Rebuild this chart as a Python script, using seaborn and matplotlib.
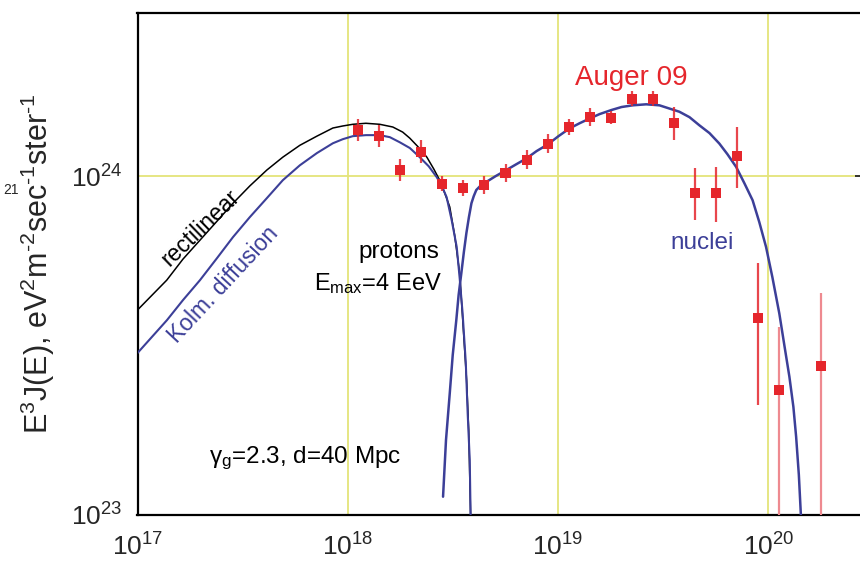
import numpy as np
import matplotlib
matplotlib.use('Agg')
import matplotlib.pyplot as plt
import seaborn as sns

# Auger 2009 spectrum, log10(E/eV) and log10(E^3 J)
auger_lgE = [18.05, 18.15, 18.25, 18.35, 18.45, 18.55, 18.65, 18.75, 18.85, 18.95, 19.05,
             19.15, 19.25, 19.35, 19.45, 19.55, 19.65, 19.75, 19.85, 19.95, 20.05, 20.25]
auger_lgF = [24.136, 24.119, 24.018, 24.072, 23.978, 23.965, 23.973, 24.010, 24.049, 24.096, 24.145,
             24.175, 24.173, 24.229, 24.229, 24.157, 23.951, 23.951, 24.060, 23.582, 23.369, 23.440]
auger_err_up = [0.032, 0.032, 0.032, 0.034, 0.022, 0.025, 0.027, 0.027, 0.027, 0.027, 0.025,
                0.027, 0.020, 0.023, 0.023, 0.046, 0.073, 0.076, 0.085, 0.161, 0.186, 0.214]
auger_err_lo = [0.032, 0.032, 0.032, 0.034, 0.022, 0.025, 0.027, 0.027, 0.027, 0.027, 0.025,
                0.027, 0.020, 0.023, 0.023, 0.051, 0.081, 0.086, 0.095, 0.258, 0.600, 0.443]

# protons, rectilinear propagation
rect_lgE = [17.0, 17.139, 17.216, 17.297, 17.378, 17.454, 17.534, 17.615, 17.691, 17.772,
            17.853, 17.929, 17.976, 18.024, 18.086, 18.152, 18.214, 18.261, 18.295, 18.332,
            18.376, 18.409, 18.437, 18.461, 18.485, 18.508, 18.532, 18.546, 18.565, 18.575,
            18.584, 18.590]
rect_lgF = [23.605, 23.693, 23.755, 23.811, 23.867, 23.920, 23.971, 24.018, 24.056, 24.091,
            24.118, 24.142, 24.148, 24.153, 24.156, 24.153, 24.145, 24.130, 24.112, 24.088,
            24.056, 24.021, 23.988, 23.950, 23.909, 23.826, 23.714, 23.581, 23.398, 23.251,
            23.000, 22.900]

# protons, Kolmogorov diffusion
kolm_lgE = [17.0, 17.140, 17.216, 17.297, 17.378, 17.454, 17.534, 17.615, 17.691, 17.772,
            17.853, 17.929, 17.976, 18.024, 18.086, 18.152, 18.200, 18.247, 18.295, 18.342,
            18.385, 18.423, 18.447, 18.470, 18.494, 18.518, 18.532, 18.546, 18.561, 18.570,
            18.580, 18.584, 18.590]
kolm_lgF = [23.478, 23.575, 23.634, 23.693, 23.758, 23.820, 23.879, 23.935, 23.988, 24.032,
            24.068, 24.097, 24.109, 24.118, 24.121, 24.121, 24.115, 24.100, 24.083, 24.056,
            24.029, 23.997, 23.971, 23.938, 23.870, 23.791, 23.699, 23.596, 23.451, 23.301,
            23.162, 23.000, 22.900]

# nuclei
nuc_lgE = [18.453, 18.467, 18.485, 18.499, 18.516, 18.527, 18.540, 18.552, 18.564, 18.576,
           18.588, 18.599, 18.611, 18.633, 18.659, 18.703, 18.754, 18.801, 18.849, 18.898,
           18.952, 19.002, 19.055, 19.102, 19.150, 19.197, 19.253, 19.302, 19.355, 19.419,
           19.482, 19.577, 19.625, 19.672, 19.720, 19.767, 19.805, 19.847, 19.886, 19.925,
           19.957, 19.989, 20.019, 20.052, 20.076, 20.100, 20.119, 20.132, 20.145, 20.155,
           20.160]
nuc_lgF = [23.054, 23.221, 23.360, 23.472, 23.575, 23.649, 23.714, 23.776, 23.832, 23.879,
           23.920, 23.941, 23.959, 23.973, 23.983, 24.000, 24.018, 24.035, 24.052, 24.074,
           24.094, 24.118, 24.141, 24.156, 24.170, 24.183, 24.195, 24.204, 24.209, 24.212,
           24.209, 24.190, 24.174, 24.150, 24.127, 24.096, 24.065, 24.027, 23.979, 23.929,
           23.864, 23.791, 23.702, 23.595, 23.501, 23.408, 23.319, 23.231, 23.118, 22.995,
           22.900]

red = '#e5262c'
blue = '#3c3f98'
grid_col = '#e4e47a'

sns.set_style("white")
plt.rcParams['font.family'] = ['Liberation Sans', 'DejaVu Sans']
plt.rcParams['mathtext.fontset'] = 'custom'
plt.rcParams['mathtext.rm'] = 'Liberation Sans'
plt.rcParams['mathtext.it'] = 'Liberation Sans:italic'

fig = plt.figure(figsize=(8.6, 5.63), dpi=100)
ax = fig.add_axes([137.5 / 860, 1 - 515 / 563, (868.7 - 137.5) / 860, (515 - 13) / 563])
ax.set_xscale('log')
ax.set_yscale('log')
ax.set_xlim(1e17, 3e20)
ax.set_ylim(1e23, 3.03e24)

# yellow grid at decades
for gx in [1e18, 1e19, 1e20]:
    ax.axvline(gx, color=grid_col, lw=1.3, zorder=0)
ax.axhline(1e24, color=grid_col, lw=1.3, zorder=0)

# model curves
sns.lineplot(x=10 ** np.array(rect_lgE), y=10 ** np.array(rect_lgF), ax=ax, color='black',
             lw=1.1, sort=False, estimator=None, zorder=2)
sns.lineplot(x=10 ** np.array(kolm_lgE), y=10 ** np.array(kolm_lgF), ax=ax, color=blue,
             lw=1.5, sort=False, estimator=None, zorder=3)
sns.lineplot(x=10 ** np.array(nuc_lgE), y=10 ** np.array(nuc_lgF), ax=ax, color=blue,
             lw=1.8, sort=False, estimator=None, zorder=3)

# data with error bars
E = 10 ** np.array(auger_lgE)
F = 10 ** np.array(auger_lgF)
up = 10 ** (np.array(auger_lgF) + np.array(auger_err_up)) - F
lo = F - 10 ** (np.array(auger_lgF) - np.array(auger_err_lo))
n_dark = 20
ax.errorbar(E[:n_dark], F[:n_dark], yerr=[lo[:n_dark], up[:n_dark]], fmt='none',
            ecolor=red, elinewidth=1.6, alpha=0.85, zorder=4)
ax.errorbar(E[n_dark:], F[n_dark:], yerr=[lo[n_dark:], up[n_dark:]], fmt='none',
            ecolor='#ee8a90', elinewidth=1.6, zorder=4)
sns.scatterplot(x=E, y=F, ax=ax, marker='s', s=52, color=red, edgecolor='none',
                linewidth=0, zorder=5)

# axes styling
for side in ['left', 'bottom', 'top', 'right']:
    ax.spines[side].set_linewidth(1.6)
    ax.spines[side].set_color('black')
ax.tick_params(which='major', direction='in', length=10, width=1.3, labelsize=19,
               right=True, top=False)
ax.tick_params(which='minor', direction='in', length=5, width=1.1, right=True, top=False)
ax.tick_params(axis='x', which='major', pad=13)
ax.tick_params(axis='y', which='major', pad=11)
ax.set_xlabel('')
ax.set_ylabel(r'E$^3$J(E), eV$^2$m$^{\text{-}2}$sec$^{\text{-}1}$ster$^{\text{-}1}$',
              fontsize=22, labelpad=10)

# annotations
ax.text(10 ** 19.349, 10 ** 24.289, 'Auger 09', color=red, fontsize=20, ha='center', va='center')
ax.text(10 ** 17.3, 10 ** 23.847, 'rectilinear', color='black', fontsize=16.5, rotation=44,
        ha='center', va='center')
ax.text(10 ** 17.41, 10 ** 23.68, 'Kolm. diffusion', color=blue, fontsize=16.5, rotation=47,
        ha='center', va='center')
ax.text(10 ** 18.242, 10 ** 23.776, 'protons', color='black', fontsize=17.5, ha='center', va='center')
ax.text(10 ** 18.142, 10 ** 23.684, r'E$_{\rm max}$=4 EeV', color='black', fontsize=17,
        ha='center', va='center')
ax.text(10 ** 17.796, 10 ** 23.168, r'γ$_{\rm g}$=2.3, d=40 Mpc', color='black', fontsize=17.5,
        ha='center', va='center')
ax.text(10 ** 19.686, 10 ** 23.802, 'nuclei', color=blue, fontsize=17.5, ha='center', va='center')

fig.text(11 / 860, 1 - 190 / 563, '21', fontsize=10, ha='center', va='center')

fig.savefig('out.png', dpi=100)
